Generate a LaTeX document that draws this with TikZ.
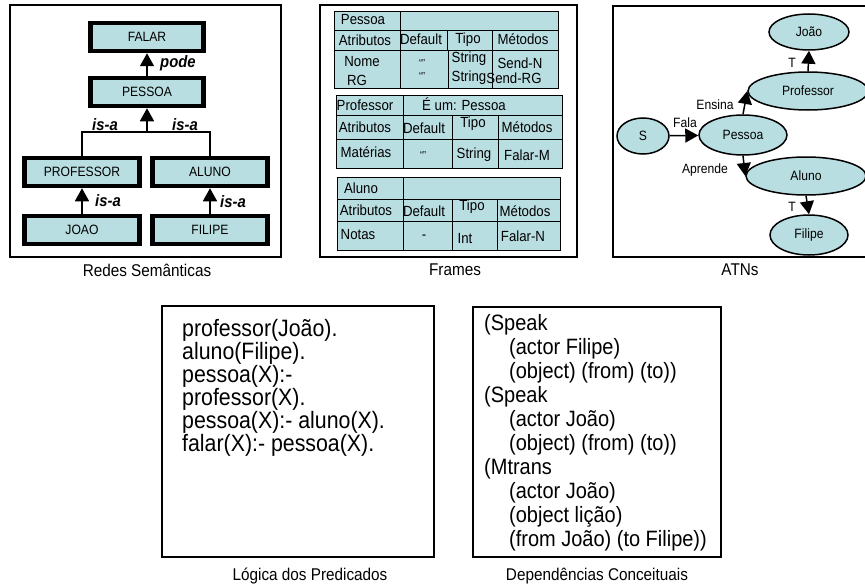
\documentclass[tikz,border=0pt]{standalone}
\usepackage{fontspec}
\setmainfont[FakeStretch=0.9]{Liberation Sans}
\usetikzlibrary{arrows.meta,shapes.geometric}
\definecolor{cellfill}{RGB}{185,222,226}
\newcommand\fsz[1]{\fontsize{#1}{#1}\selectfont}
\begin{document}
\begin{tikzpicture}[x=1pt,y=-1pt,
  panel/.style={draw=black,line width=1.6pt},
  netbox/.style={draw,line width=4.5pt,fill=cellfill,minimum width=113pt,minimum height=28pt,inner sep=0pt,font=\fsz{13.5}},
  isa/.style={font=\fsz{16.5}\bfseries\itshape,inner sep=0pt},
  tip/.style={-{Triangle[width=14pt,length=13pt]},line width=1.5pt},
  caption/.style={font=\fsz{17},inner sep=0pt},
  grid/.style={draw=black,line width=0.9pt},
  cell/.style={font=\fsz{14.7},inner sep=0pt},
  quotes/.style={font=\fsz{10},inner sep=0pt},
  atnstate/.style={ellipse,draw,line width=1.5pt,fill=cellfill,font=\fsz{13.5},inner sep=0pt},
  lbl/.style={font=\fsz{13.5},inner sep=0pt},
  body/.style={font=\fsz{23.7},inner sep=0pt,anchor=base west},
  bodycd/.style={font=\fsz{22.2},inner sep=0pt,anchor=base west}]
\useasboundingbox (0,0) rectangle (865,586);
\clip (0,0) rectangle (865,586);

% ---------------- semantic network ----------------
\draw[panel] (10,5) rectangle (281,257);
\node[netbox] (falar) at (147,37) {FALAR};
\node[netbox] (pessoa) at (147,92) {PESSOA};
\node[netbox,minimum width=115pt] (professor) at (82,172) {PROFESSOR};
\node[netbox,minimum width=115pt] (aluno) at (210,172) {ALUNO};
\node[netbox,minimum width=115pt] (joao) at (82,230) {JOAO};
\node[netbox,minimum width=115pt] (filipe) at (210,230) {FILIPE};
\coordinate (join) at (147,132);
\draw[line width=1.2pt] (professor.north) |- (join) -| (aluno.north);
\draw[tip] (join) -- (pessoa.south);
\draw[tip] (pessoa.north) -- (falar.south);
\draw[tip] (joao.north) -- (professor.south);
\draw[tip] (filipe.north) -- (aluno.south);
\node[isa,anchor=west] (pode) at (160,63) {pode};
\node[isa] (isa1) at (105,125) {is-a};
\node[isa] (isa2) at (185,125) {is-a};
\node[isa] (isa3) at (108,201) {is-a};
\node[isa] (isa4) at (233,202) {is-a};
\node[caption] (capnet) at (147,270) {Redes Semânticas};

% ---------------- frames ----------------
\draw[panel] (320,5) rectangle (577,257);
% Pessoa
\draw[grid,fill=cellfill] (334,11) rectangle (558,88);
\draw[grid] (334,30) -- (558,30) (334,50) -- (558,50)
            (400,11) -- (400,88) (447,30) -- (447,50) (448,50) -- (448,88) (492,30) -- (492,88);
\node[cell] (fp1) at (363,20) {Pessoa};
\node[cell] (fp2) at (365,40) {Atributos};
\node[cell] (fp3) at (421,39) {Default};
\node[cell] (fp4) at (468,40) {Tipo};
\node[cell] (fp5) at (523,39) {Métodos};
\node[cell] (fp6) at (362,62) {Nome};
\node[cell] (fp7) at (357,80) {RG};
\node[quotes] (fp8) at (422,63) {“”};
\node[quotes] (fp9) at (422,76) {“”};
\node[cell] (fp10) at (469,59) {String};
\node[cell] (fp11) at (469,78) {String};
\node[cell] (fp12) at (520,63) {Send-N};
\node[cell] (fp13) at (514,78) {Send-RG};
% Professor
\draw[grid,fill=cellfill] (336,95) rectangle (562,168);
\draw[grid] (336,115) -- (562,115) (336,139) -- (562,139)
            (403,95) -- (403,168) (452,115) -- (452,168) (498,115) -- (498,168);
\node[cell] (fr1) at (365,105) {Professor};
\node[cell] (fr2) at (464,104) {É um: Pessoa};
\node[cell] (fr3) at (365,127) {Atributos};
\node[cell] (fr4) at (424,128) {Default};
\node[cell] (fr5) at (473,124) {Tipo};
\node[cell] (fr6) at (527,127) {Métodos};
\node[cell] (fr7) at (366,152) {Matérias};
\node[quotes] (fr8) at (423,155) {“”};
\node[cell] (fr9) at (474,155) {String};
\node[cell] (fr10) at (527,155) {Falar-M};
% Aluno
\draw[grid,fill=cellfill] (337,177) rectangle (560,250);
\draw[grid] (337,199) -- (560,199) (337,221) -- (560,221)
            (403,177) -- (403,250) (452,199) -- (452,250) (497,199) -- (497,250);
\node[cell] (fa1) at (361,188) {Aluno};
\node[cell] (fa2) at (366,210) {Atributos};
\node[cell] (fa3) at (424,211) {Default};
\node[cell] (fa4) at (472,207) {Tipo};
\node[cell] (fa5) at (525,211) {Métodos};
\node[cell] (fa6) at (358,235) {Notas};
\node[cell] (fa7) at (424,237) {-};
\node[cell] (fa8) at (465,238) {Int};
\node[cell] (fa9) at (523,236) {Falar-N};
\node[caption] (capframes) at (455,270) {Frames};

% ---------------- ATNs ----------------
\draw[panel] (613,6) rectangle (880,257);
\node[atnstate,minimum width=80pt,minimum height=36pt] (joaoA) at (809,32) {João};
\node[atnstate,minimum width=120pt,minimum height=38pt] (professorA) at (808,91) {Professor};
\node[atnstate,minimum width=52pt,minimum height=36pt] (sA) at (643,136) {S};
\node[atnstate,minimum width=88pt,minimum height=40pt] (pessoaA) at (743,135) {Pessoa};
\node[atnstate,minimum width=120pt,minimum height=38pt] (alunoA) at (806,176) {Aluno};
\node[atnstate,minimum width=78pt,minimum height=40pt] (filipeA) at (809,235) {Filipe};
\draw[tip] (sA) -- (pessoaA);
\draw[tip] (pessoaA.north) -- (professorA.west);
\draw[tip] (pessoaA.south) -- (alunoA.west);
\draw[tip] (professorA.north) -- (joaoA.south);
\draw[tip] (alunoA.south) -- (filipeA.north);
\node[lbl] (fala) at (685,123) {Fala};
\node[lbl] (ensina) at (715,105) {Ensina};
\node[lbl] (aprende) at (705,170) {Aprende};
\node[lbl] (t1) at (792,63) {T};
\node[lbl] (t2) at (792,207) {T};
\node[caption] (capatn) at (740,270) {ATNs};

% ---------------- predicate logic ----------------
\draw[panel] (162,306) rectangle (434,557);
\foreach \txt [count=\i from 0] in {professor(João).,aluno(Filipe).,pessoa(X):-,professor(X).,pessoa(X):- aluno(X).,falar(X):- pessoa(X).}
  \node[body] (logic\i) at (182,{336+23*\i}) {\txt};
\node[caption] (caplogic) at (310,576) {Lógica dos Predicados};

% ---------------- conceptual dependencies ----------------
\draw[panel] (473,307) rectangle (721,557);
\node[bodycd] (cd0) at (484,330) {(Speak};
\node[bodycd] (cd1) at (509,354) {(actor Filipe)};
\node[bodycd] (cd2) at (509,378) {(object) (from) (to))};
\node[bodycd] (cd3) at (484,402) {(Speak};
\node[bodycd] (cd4) at (509,426) {(actor João)};
\node[bodycd] (cd5) at (509,450) {(object) (from) (to))};
\node[bodycd] (cd6) at (484,474) {(Mtrans};
\node[bodycd] (cd7) at (509,498) {(actor João)};
\node[bodycd] (cd8) at (509,522) {(object lição)};
\node[bodycd] (cd9) at (509,546) {(from João) (to Filipe))};
\node[caption] (capcd) at (597,576) {Dependências Conceituais};
\end{tikzpicture}
\end{document}
